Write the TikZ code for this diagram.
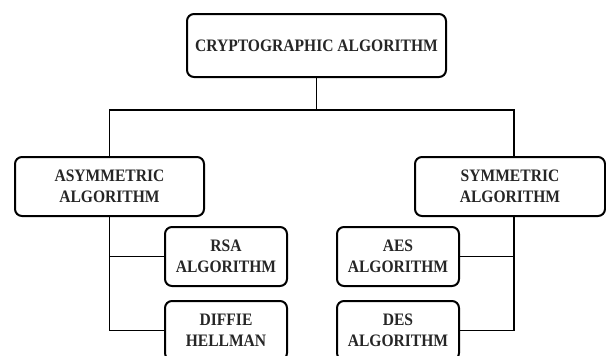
\documentclass[tikz,border=0pt]{standalone}
\usepackage{fontspec}
\setmainfont{Liberation Serif}[FakeStretch=0.89]
\begin{document}
\begin{tikzpicture}[x=1pt,y=-1pt,
  box/.style={draw=black, line width=2pt, rounded corners=7pt, fill=white,
    font=\fontsize{17.5}{21}\selectfont\bfseries, text=black!85, align=center,
    inner sep=0pt},
  link/.style={draw=black, line width=1.8pt}]
  \useasboundingbox (0,0) rectangle (606,356);
  \clip (0,0) rectangle (606,356);

  % root
  \node[box, minimum width=259pt, minimum height=63pt] (root) at (316.5,45.5)
    {CRYPTOGRAPHIC ALGORITHM};

  % second level
  \node[box, minimum width=189pt, minimum height=59pt] (asym) at (109.5,186.5)
    {ASYMMETRIC\\ALGORITHM};
  \node[box, minimum width=190pt, minimum height=59pt] (sym) at (510,186.5)
    {SYMMETRIC\\ALGORITHM};

  % leaves
  \node[box, minimum width=122pt, minimum height=59pt] (rsa) at (226,256.5)
    {RSA\\ALGORITHM};
  \node[box, minimum width=122pt, minimum height=59pt] (dh) at (226,330.5)
    {DIFFIE\\HELLMAN};
  \node[box, minimum width=122pt, minimum height=59pt] (aes) at (398,256.5)
    {AES\\ALGORITHM};
  \node[box, minimum width=122pt, minimum height=59pt] (des) at (398,330.5)
    {DES\\ALGORITHM};

  % branch points
  \coordinate (hub) at (316.5,110);
  \coordinate (sj) at ([xshift=4pt]sym.south);
  \coordinate (sn) at ([xshift=4pt]sym.north);

  \draw[link] (root.south) -- (hub);
  \draw[link] (asym.north) -- (asym.north |- hub) -- (sn |- hub) -- (sn);
  \draw[link] (asym.south) |- (dh.west);
  \draw[link] (asym.south |- rsa.west) -- (rsa.west);
  \draw[link] (sj) |- (des.east);
  \draw[link] (sj |- aes.east) -- (aes.east);
\end{tikzpicture}
\end{document}
